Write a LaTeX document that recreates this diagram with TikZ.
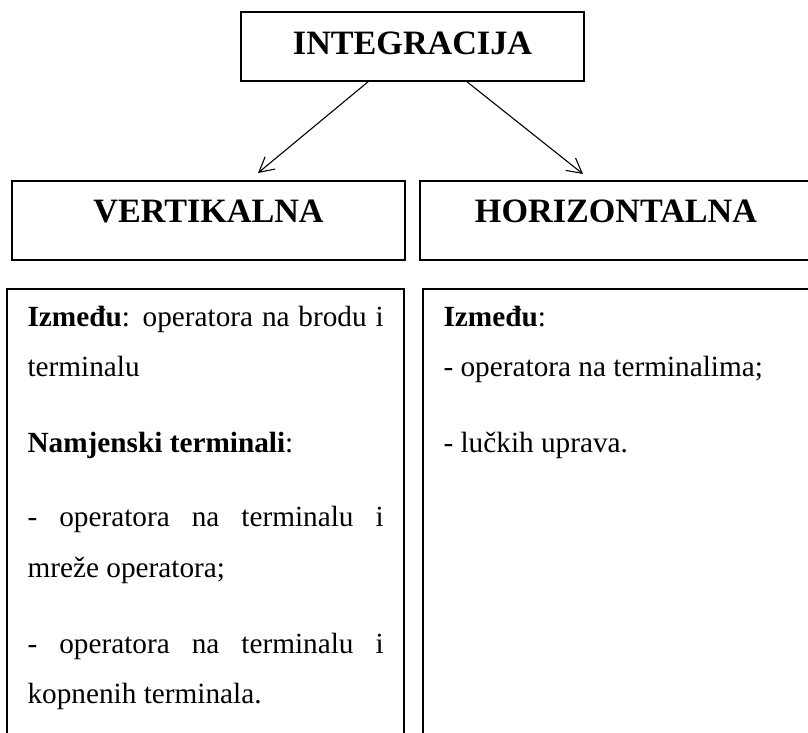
\documentclass[tikz,border=0pt]{standalone}
\usepackage{fontspec}
\setmainfont{Liberation Serif}
\usetikzlibrary{positioning, calc, arrows.meta}

\begin{document}
\begin{tikzpicture}[x=0.41pt, y=-0.41pt, line width=0.45pt,
    head/.style={anchor=base, inner sep=0pt, font=\fontsize{14}{17}\selectfont\bfseries},
    txt/.style={anchor=base west, inner sep=0pt, font=\fontsize{12}{14}\selectfont},
    arr/.style={-{Straight Barb[length=6pt, width=6.5pt]}}]
                \useasboundingbox (0,0) rectangle (808,733);

                % top
                \draw (241,12) rectangle (584,81) node[midway] (integ) {};
                \node[head] (integtxt) at ($(integ)+(0,8.5)$) {INTEGRACIJA};

                % second row
                \draw (12,181) rectangle (405,260) node[midway] (vert) {};
                \draw (420,181) rectangle (812,260) node[midway] (horiz) {};
                \node[head] (verttxt) at ($(vert)+(0,2.5)$) {VERTIKALNA};
                \node[head] (horiztxt) at ($(horiz)+(0,2.5)$) {HORIZONTALNA};

                \draw[arr] ($(integ)+(-43.5,34.5)$) -- ($(vert)+(49.5,-47.5)$);
                \draw[arr] ($(integ)+(53.5,34.5)$) -- ($(horiz)+(-33,-46.5)$);

                % lower boxes, open at the bottom
                \draw (7,289) rectangle (404,760) node[midway] (left) {};
                \draw (423,289) rectangle (812,760) node[midway] (right) {};

                \node[txt] (l1) at (27,327) {\makebox[146pt][s]{\textbf{Između}: operatora na brodu i}};
                \node[txt] (l2) at (27,377) {terminalu};
                \node[txt] (l3) at (27,452) {\textbf{Namjenski terminali}:};
                \node[txt] (l4) at (27,527) {\makebox[146pt][s]{- operatora na terminalu i}};
                \node[txt] (l5) at (27,578) {mreže operatora;};
                \node[txt] (l6) at (27,653) {\makebox[146pt][s]{- operatora na terminalu i}};
                \node[txt] (l7) at (27,704) {kopnenih terminala.};

                \node[txt] (r1) at (443,327) {\textbf{Između}:};
                \node[txt] (r2) at (443,377) {- operatora na terminalima;};
                \node[txt] (r3) at (443,452) {- lučkih uprava.};
            \end{tikzpicture}
\end{document}
